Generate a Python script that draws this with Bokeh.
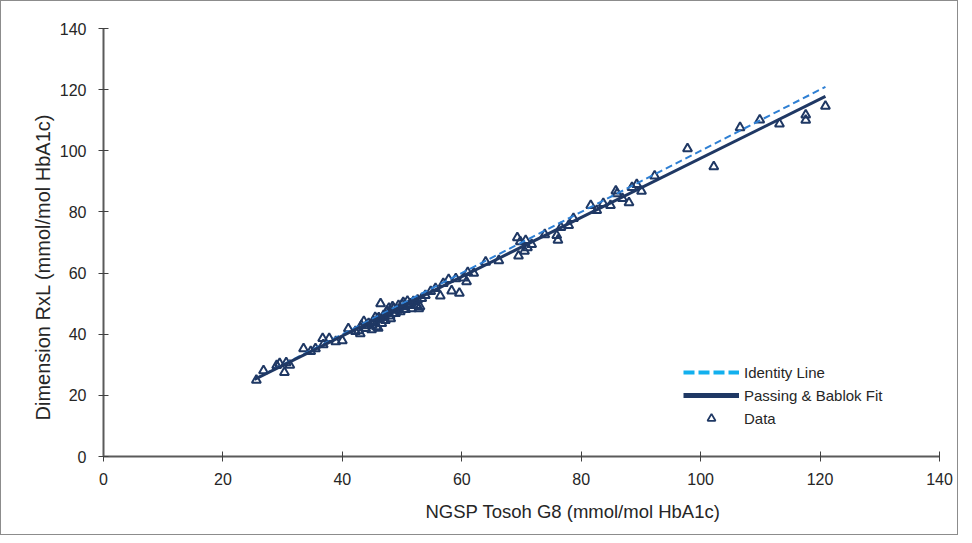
from bokeh.plotting import figure
from bokeh.models import Range1d, Title, Legend, LegendItem, FixedTicker, ColumnDataSource
from bokeh.embed import file_html
from bokeh.resources import INLINE

# ---- data ----
tosoh_g8 = [25.6, 26.8, 29.0, 29.5, 30.3, 30.6, 31.2, 33.5, 34.7, 35.5, 36.7, 36.8, 37.8, 38.9,
            40.0, 41.0, 42.2, 42.7, 43.0, 43.2, 43.6, 43.9, 44.0, 44.4, 44.9, 45.0, 45.2, 45.5,
            45.7, 45.9, 46.0, 46.1, 46.4, 46.6, 46.9, 47.0, 47.2, 47.5, 47.7, 47.8, 48.0, 48.1,
            48.4, 48.6, 48.9, 49.0, 49.2, 49.4, 49.7, 50.0, 50.2, 50.5, 50.6, 50.9, 51.1, 51.5,
            51.6, 51.9, 52.4, 52.6, 52.8, 53.0, 53.3, 53.9, 54.8, 55.6, 56.4, 56.9, 57.8, 58.3,
            59.0, 59.6, 60.3, 60.8, 61.0, 62.0, 64.0, 66.2, 69.3, 69.5, 69.8, 70.5, 70.7, 71.0,
            71.7, 73.9, 75.9, 76.1, 76.6, 77.9, 78.7, 81.6, 82.6, 83.7, 84.9, 85.8, 86.0, 86.9,
            88.0, 88.5, 89.3, 90.1, 92.3, 97.8, 102.2, 106.6, 109.9, 113.2, 117.6, 117.6, 120.9]
dimension_rxl = [25.0, 28.1, 29.8, 30.4, 27.5, 30.7, 29.9, 35.3, 34.4, 35.3, 38.6, 36.6, 38.6, 37.6,
                 37.9, 41.8, 40.9, 41.2, 40.2, 42.9, 44.2, 41.9, 42.8, 43.5, 41.5, 43.0, 44.2, 45.5,
                 42.5, 44.9, 42.0, 45.4, 50.0, 43.5, 46.1, 45.5, 44.5, 47.6, 46.8, 48.5, 46.0, 45.1,
                 49.0, 48.4, 46.8, 48.0, 47.9, 49.4, 47.4, 49.7, 50.4, 49.0, 48.1, 50.8, 49.4, 50.0,
                 48.4, 50.7, 49.4, 51.2, 48.4, 49.0, 51.7, 52.7, 54.0, 55.0, 52.5, 56.6, 57.9, 54.2,
                 58.2, 53.4, 58.4, 57.2, 60.2, 60.0, 63.6, 64.1, 71.6, 65.6, 70.3, 67.2, 70.7, 68.3,
                 69.4, 72.6, 72.3, 70.8, 74.9, 75.6, 77.9, 82.1, 80.5, 82.8, 82.1, 86.9, 86.0, 84.4,
                 83.0, 88.0, 89.0, 86.8, 91.8, 100.7, 94.8, 107.6, 110.1, 108.8, 111.7, 110.0, 114.6]

identity_x = [25.3, 120.9]
identity_y = [25.3, 120.9]
fit_x = [25.3, 120.9]
fit_y = [25.2, 117.8]

axis_ticks = [0, 20, 40, 60, 80, 100, 120, 140]
x_title = "NGSP Tosoh G8 (mmol/mol HbA1c)"
y_title = "Dimension RxL (mmol/mol HbA1c)"

FONT = "Liberation Sans"
NAVY = "#1f3864"
NAN = float("nan")

p = figure(width=958, height=535, output_backend="svg", toolbar_location=None,
           x_range=Range1d(0, 140), y_range=Range1d(0, 140),
           min_border_left=102, min_border_right=20, min_border_top=27, min_border_bottom=80,
           styles={"border": "1px solid #8c8c8c"})
p.outline_line_color = None
p.xgrid.visible = False
p.ygrid.visible = False

for ax in (p.xaxis[0], p.yaxis[0]):
    ax.ticker = FixedTicker(ticks=axis_ticks)
    ax.axis_line_color = "#5a5a5a"
    ax.axis_line_width = 2
    ax.major_tick_line_color = "#404040"
    ax.major_tick_line_width = 1
    ax.major_tick_in = 5
    ax.major_tick_out = 5
    ax.minor_tick_line_color = None
    ax.major_label_text_font = FONT
    ax.major_label_text_font_size = "16px"
    ax.major_label_text_color = "#262626"

p.yaxis.major_label_standoff = 12
p.xaxis.major_label_standoff = 11

xt = Title(text=x_title, align="left", offset=322, standoff=23,
           text_font=FONT, text_font_size="18.5px", text_font_style="normal",
           text_color="#262626")
p.add_layout(xt, "below")
yt = Title(text=y_title, align="left", offset=36, standoff=6,
           text_font=FONT, text_font_size="20px", text_font_style="normal",
           text_color="#262626")
p.add_layout(yt, "left")

src = ColumnDataSource(dict(x=tosoh_g8, y=dimension_rxl))
pts = p.scatter("x", "y", source=src, marker="triangle", size=9,
                line_color=NAVY, line_width=2, fill_alpha=0)

p.line(identity_x, identity_y, line_color="#2e7fd3", line_width=2, line_dash="7 4")
p.line(fit_x, fit_y, line_color=NAVY, line_width=3)

# legend-only renderers (no visible data)
leg_id = p.line(x=[NAN, NAN], y=[NAN, NAN], line_color="#12b0ee", line_width=4, line_dash="11 4")
leg_fit = p.line(x=[NAN, NAN], y=[NAN, NAN], line_color=NAVY, line_width=5)
leg_pts = p.scatter(x=[NAN], y=[NAN], marker="triangle", size=7, line_color=NAVY,
                    line_width=1.8, fill_alpha=0)

legend = Legend(items=[LegendItem(label="Identity Line", renderers=[leg_id]),
                       LegendItem(label="Passing & Bablok Fit", renderers=[leg_fit]),
                       LegendItem(label="Data", renderers=[leg_pts])],
                location=(580, 28))
legend.border_line_color = None
legend.background_fill_alpha = 0
legend.padding = 0
legend.margin = 0
legend.spacing = 3
legend.glyph_width = 56
legend.glyph_height = 20
legend.label_standoff = 5
legend.label_text_font = FONT
legend.label_text_font_size = "15px"
legend.label_text_color = "#262626"
p.add_layout(legend, "center")

open("out.html", "w").write(file_html(p, INLINE))
